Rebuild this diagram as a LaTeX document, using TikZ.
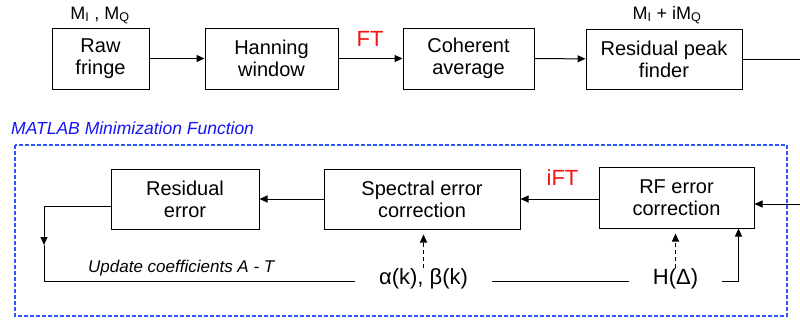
\documentclass[tikz,border=0pt]{standalone}
\usepackage{fontspec}
\setmainfont{Liberation Sans}
\usetikzlibrary{arrows.meta}
\definecolor{boxblue}{RGB}{45,85,255}
\definecolor{labelblue}{RGB}{20,20,245}
\definecolor{ftred}{RGB}{245,20,20}

\begin{document}
\begin{tikzpicture}[x=1pt,y=-1pt,
  block/.style={draw, line width=1pt, align=center, inner sep=0pt,
    font=\fontsize{20}{22}\selectfont},
  conn/.style={line width=1pt, -{Triangle[length=8pt,width=7pt]}},
  plain/.style={line width=1pt},
  dashconn/.style={line width=1pt, dash pattern=on 4pt off 3pt,
    -{Triangle[length=8pt,width=7pt]}, shorten >=5pt},
  lbl/.style={inner sep=0pt, anchor=base},
  param/.style={inner xsep=24pt, inner ysep=9pt, text height=0.73em,
    text depth=0.21em, font=\fontsize{22}{24}\selectfont},
  redlbl/.style={lbl, text=ftred, font=\fontsize{22}{24}\selectfont},
  sublbl/.style={lbl, font=\fontsize{18}{20}\selectfont}
]
\useasboundingbox (0,0) rectangle (800,322);

% processing chain
\node[block, minimum width=97pt, minimum height=61pt] (raw) at (100.5,58.5) {Raw\\fringe};
\node[block, minimum width=133pt, minimum height=61pt] (han) at (271.5,58.5) {Hanning\\window};
\node[block, minimum width=131pt, minimum height=61pt] (coh) at (468.5,58.5) {Coherent\\average};
\node[block, minimum width=156pt, minimum height=60pt] (peak) at (664,59) {Residual peak\\finder};
\coordinate (out) at (800,59);

\node[sublbl] (mimq) at (100,19) {M\textsubscript{I} , M\textsubscript{Q}};
\node[sublbl] (mcplx) at (667,19) {M\textsubscript{I} + iM\textsubscript{Q}};
\node[redlbl] (ft) at (370,46) {FT};

\draw[conn] (raw) -- (han);
\draw[conn] (han) -- (coh);
\draw[conn] (coh) -- (peak);
\draw[plain] (peak) -- (out);

% minimization loop
\node[lbl, anchor=base west, text=labelblue, font=\fontsize{17.5}{19}\selectfont\itshape]
  (mlab) at (11,134) {MATLAB Minimization Function};
\draw[boxblue, line width=1.3pt, dash pattern=on 4pt off 2pt] (15,145) rectangle (787,316);

\node[block, minimum width=148pt, minimum height=60pt] (res) at (185,199) {Residual\\error};
\node[block, minimum width=196pt, minimum height=60pt] (spec) at (422,199) {Spectral error\\correction};
\node[block, minimum width=155pt, minimum height=61pt] (rf) at (676.5,197.5) {RF error\\correction};
\coordinate (in) at (800,204);

\node[redlbl] (ift) at (562.5,185) {iFT};

\draw[conn] (in) -- (in -| rf.east);
\draw[conn] (rf.west |- spec) -- (spec.east);
\draw[conn] (spec) -- (res);

\node[param] (ab) at (423.5,281.5) {α(k), β(k)};
\node[param] (hd) at (675.5,281.5) {H(Δ)};

\coordinate (ltop) at (44,206);
\coordinate (lmid) at (44,245);
\coordinate (lbot) at (44,281.5);
\draw[conn] ([yshift=-7pt]res.west) -- (ltop) -- (lmid);
\draw[plain] (lmid) -- (lbot) -- (ab.west);
\node[lbl, anchor=base west, font=\fontsize{17}{19}\selectfont\itshape]
  (upd) at (88,272) {Update coefficients A - T};

\draw[plain] (ab.east) -- (hd.west);
\draw[conn] (hd.east) -| ([xshift=-16pt]rf.south east);
\draw[dashconn] (ab.north) -- (ab.north |- spec.south);
\draw[dashconn] (hd.north) -- (hd.north |- rf.south);
\end{tikzpicture}
\end{document}
